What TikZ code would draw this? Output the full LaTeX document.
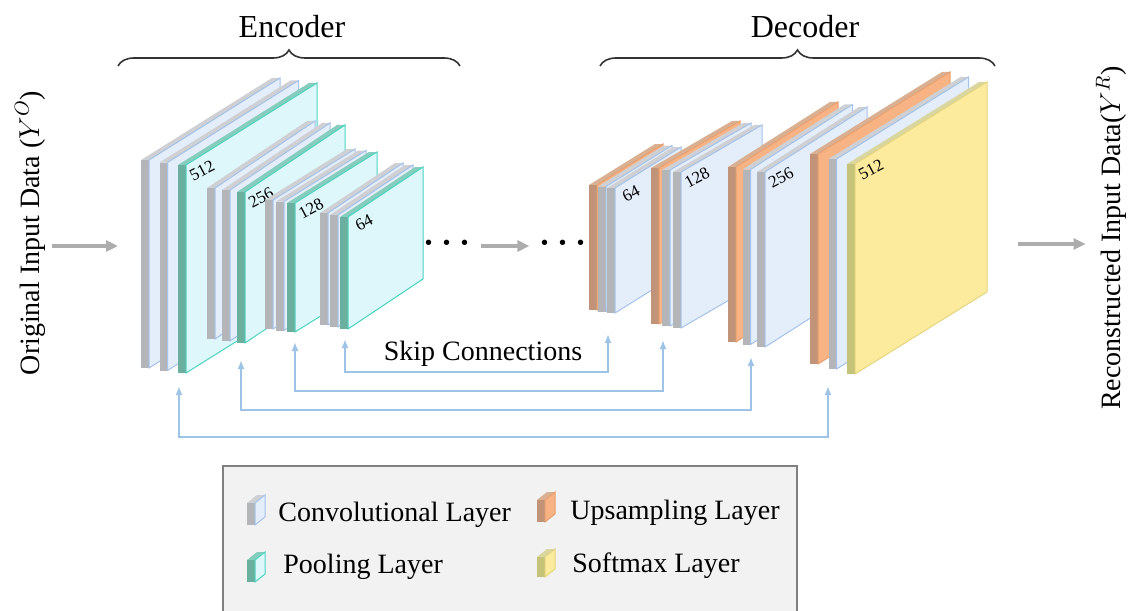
\documentclass[tikz,border=0pt]{standalone}
\usepackage{fontspec}
\setmainfont{Liberation Serif}
\usetikzlibrary{arrows.meta,decorations.pathreplacing}
\definecolor{convfront}{HTML}{B4B5B9}
\definecolor{convtop}{HTML}{CFD0D3}
\definecolor{convface}{HTML}{E4EDFA}
\definecolor{convedge}{HTML}{A4C2EA}
\definecolor{poolfront}{HTML}{6BAF9F}
\definecolor{pooltop}{HTML}{86CDBD}
\definecolor{poolface}{HTML}{DDF7FA}
\definecolor{pooledge}{HTML}{4DD3C2}
\definecolor{upfront}{HTML}{C19479}
\definecolor{uptop}{HTML}{D9B091}
\definecolor{upface}{HTML}{F8B384}
\definecolor{upedge}{HTML}{E9A070}
\definecolor{softfront}{HTML}{C5C27A}
\definecolor{softtop}{HTML}{D9D6A0}
\definecolor{softface}{HTML}{FDEB9D}
\definecolor{softedge}{HTML}{E5D57F}
\definecolor{skipblue}{HTML}{9DC3E6}
\definecolor{flowgray}{HTML}{ADADAD}
\definecolor{legendfill}{HTML}{F2F2F2}

\tikzset{
  pics/slab/.style n args={4}{code={
    \colorlet{slabfront}{#1front}\colorlet{slabtop}{#1top}
    \colorlet{slabface}{#1face}\colorlet{slabedge}{#1edge}
    \fill[slabtop] (0,0) -- (8,0) -- ++(#3,-#4) -- ++(-8,0) -- cycle;
    \fill[slabfront] (0,0) rectangle (8,#2);
    \filldraw[fill=slabface, draw=slabedge, line width=0.5pt]
      (8,0) -- ++(#3,-#4) -- ++(0,#2) -- ++(-#3,#4) -- cycle;
  }},
  layernum/.style={font=\fontsize{8.5}{10}\selectfont, rotate=28, inner sep=0pt},
  headtext/.style={font=\fontsize{16}{19}\selectfont, inner sep=0pt},
  bodytext/.style={font=\fontsize{14}{17}\selectfont, inner sep=0pt},
  dotstext/.style={font=\fontsize{16}{19}\selectfont\boldmath, inner sep=0pt, text height=0.5em, text depth=0pt},
  bracket/.style={decorate, decoration={brace, amplitude=8pt}, line width=0.8pt, black!80},
  flow/.style={flowgray, line width=1.6pt, -{Triangle[length=6pt,width=5.5pt]}},
  skip/.style={skipblue, line width=1pt, {Latex[length=4.5pt,width=3.5pt]}-{Latex[length=4.5pt,width=3.5pt]}},
  legendbox/.style={draw=black!50, fill=legendfill, line width=0.6pt}
}

\begin{document}
\begin{tikzpicture}[x=0.5pt, y=-0.5pt]
\useasboundingbox (0,0) rectangle (1134,610);

% Encoder and decoder blocks, three slabs each, drawn back to front
\foreach \blk/\bx/\by/\sx/\sy/\h/\dx/\dy/\kinds/\num in {
    enc1/141/160/18.5/2.5/208/131/82/{conv,conv,pool}/512,
    enc2/207/188/15/2/151/100/67/{conv,conv,pool}/256,
    enc3/265/200/11/1.5/129/82/51/{conv,conv,pool}/128,
    enc4/320/213/10/2/112/75/50/{conv,conv,pool}/64,
    dec1/589/185/9/1.5/125/66/41/{up,conv,conv}/64,
    dec2/651/168/11/2/156/81/47/{up,conv,conv}/128,
    dec3/728/167/14.5/2.5/175/102/65/{up,conv,conv}/256,
    dec4/810/154/18.5/5/210/132/82/{up,conv,soft}/512} {
  \foreach \k [count=\i from 0] in \kinds
    \pic at ({\bx+\i*\sx},{\by+\i*\sy}) {slab={\k}{\h}{\dx}{\dy}};
  \node[layernum] (\blk-num) at ({\bx+2*\sx+24},{\by+2*\sy+6}) {\num};
}

% Titles and braces
\node[headtext] (enc-title) at (292,27) {Encoder};
\node[headtext] (dec-title) at (805,27) {Decoder};
\draw[bracket] (118,66) -- (460,66);
\draw[bracket] (600,66) -- (995,66);

% Data flow
\node[bodytext, rotate=90] (input) at (30,233) {Original Input Data ($Y^{O}$)};
\node[bodytext, rotate=90] (output) at (1111,238) {Reconstructed Input Data($Y^{R}$)};
\coordinate (enc-in) at (118,246);
\coordinate (dec-out) at (1018,244);
\draw[flow, shorten <=3.5pt] (input.south |- enc-in) -- (enc-in);
\draw[flow, shorten >=5pt] (dec-out) -- (output.north |- dec-out);
\node[dotstext] (dots-l) at (447,246) {$\cdots$};
\node[dotstext] (dots-r) at (563,246) {$\cdots$};
\draw[flow, shorten <=5pt, shorten >=5pt] (dots-l) -- (dots-r);

% Skip connections
\coordinate (enc1-skip) at (179,386);
\coordinate (enc2-skip) at (241,360);
\coordinate (enc3-skip) at (295,342);
\coordinate (enc4-skip) at (345,339);
\coordinate (dec1-skip) at (608,334);
\coordinate (dec2-skip) at (663,340);
\coordinate (dec3-skip) at (751,357);
\coordinate (dec4-skip) at (828,386);
\foreach \e/\d/\yy in {enc4/dec1/372, enc3/dec2/391, enc2/dec3/410, enc1/dec4/437}
  \draw[skip] (\e-skip) -- (\e-skip |- 0,\yy) -| (\d-skip);
\node[bodytext] (skip-label) at (483,354) {Skip Connections};

% Legend
\draw[legendbox] (223,466) rectangle (797,650);
\pic at (247,503) {slab={conv}{22}{10}{8}};
\pic at (247,560) {slab={pool}{22}{10}{8}};
\pic at (537,500) {slab={up}{22}{10}{8}};
\pic at (537,557) {slab={soft}{20}{10}{8}};
\node[bodytext, anchor=west] (leg-conv) at (278,515) {Convolutional Layer};
\node[bodytext, anchor=west] (leg-pool) at (283,567) {Pooling Layer};
\node[bodytext, anchor=west] (leg-up) at (570,513) {Upsampling Layer};
\node[bodytext, anchor=west] (leg-soft) at (572,566) {Softmax Layer};
\end{tikzpicture}
\end{document}
